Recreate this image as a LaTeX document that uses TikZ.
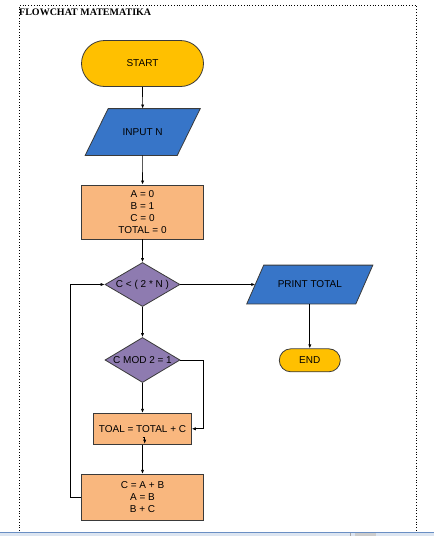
\documentclass[tikz,border=0pt]{standalone}
\usepackage{fontspec}
\setmainfont{Liberation Serif}
\newfontfamily\arialf{Liberation Sans}
\usetikzlibrary{shapes.geometric,shapes.misc,arrows.meta,backgrounds}
\definecolor{termY}{HTML}{FFC000}
\definecolor{ioB}{HTML}{3775C8}
\definecolor{procP}{HTML}{F9B77E}
\definecolor{decV}{HTML}{8E7BB0}
\definecolor{edgeG}{HTML}{3A3A3A}
\definecolor{barB}{HTML}{6A8FC4}
\definecolor{barF}{HTML}{DCE5F1}
\tikzset{
  base/.style={draw=edgeG, line width=0.8pt, inner sep=0pt, text=black,
    font=\arialf\fontsize{10}{12}\selectfont, align=center},
  term/.style={base, rounded rectangle, fill=termY},
  io/.style={base, rectangle, draw=none},
  iofill/.style={draw=edgeG, line width=0.8pt, fill=ioB},
  proc/.style={base, rectangle, fill=procP},
  dec/.style={base, diamond, fill=decV, aspect=1.7},
  conn/.style={draw=black, line width=0.7pt, -{Latex[length=4pt,width=3.2pt]}},
  frame/.style={draw=black, dotted, line width=0.8pt},
}
\begin{document}
\begin{tikzpicture}[x=1pt,y=-1pt]
\useasboundingbox (0,0) rectangle (434,536);
% page frame
\coordinate (ftl) at (19.5,5);
\coordinate (ftr) at (416,5);
\coordinate (fbl) at (19.5,531);
\coordinate (fbr) at (416,531);
\draw[frame] (fbl) -- (ftl) -- (ftr) -- (fbr);
% bottom bar
\fill[barF] (0,532) rectangle (434,536);
\draw[barB, line width=0.8pt] (0,532) -- (434,532);
\fill[gray!40] (355,533) rectangle (376,536);
\draw[gray!70, line width=0.5pt] (350,532.5) -- (350,536);
% title
\node[anchor=base west, inner sep=0pt, font=\bfseries\fontsize{10}{12}\selectfont] (title) at (19,15) {FLOWCHAT MATEMATIKA};
% nodes
\node[term, minimum width=122pt, minimum height=46pt] (start) at (142.5,63.5) {START};
\node[io, minimum width=91.3pt, minimum height=46pt] (input) at (142.7,132) {INPUT N};
\node[proc, minimum width=122pt, minimum height=54pt] (init) at (142.5,212) {A = 0\\B = 1\\C = 0\\TOTAL = 0};
\node[dec, minimum width=75pt, minimum height=44pt] (d1) at (142.5,284.5) {C < ( 2 * N )};
\node[io, minimum width=108.3pt, minimum height=38pt] (print) at (309.8,284.5) {PRINT TOTAL};
\node[term, minimum width=61pt, minimum height=23pt] (end) at (309.8,360.3) {END};
\node[dec, minimum width=75pt, minimum height=45pt] (d2) at (142.5,360) {C MOD 2 = 1};
\node[proc, minimum width=97.7pt, minimum height=31pt] (toal) at (142.5,428.8) {TOAL = TOTAL + C};
\node[proc, minimum width=122pt, minimum height=46pt] (calc) at (142.5,497.3) {C = A + B\\A = B\\B + C};
% parallelogram bodies
\begin{scope}[on background layer]
\draw[iofill] ([xshift=11.5pt]input.north west) -- ([xshift=11.5pt]input.north east)
  -- ([xshift=-11.5pt]input.south east) -- ([xshift=-11.5pt]input.south west) -- cycle;
\draw[iofill] ([xshift=8.5pt]print.north west) -- ([xshift=8.5pt]print.north east)
  -- ([xshift=-8.5pt]print.south east) -- ([xshift=-8.5pt]print.south west) -- cycle;
\end{scope}
% connectors
\draw[conn] (start) -- (input);
\draw[conn] (input) -- (init);
\draw[conn] (init) -- (d1);
\draw[conn] (d1.east) -- (print.west);
\draw[conn] (print.south) -- (end.north);
\draw[conn] (d1.south) -- (d2.north);
\draw[conn] (d2.south) -- (toal.north);
\draw[conn] (d2.east) -- ++(22.7,0) |- (toal.east);
\draw[conn] (toal.south) -- (calc.north);
\draw[conn, line width=0.6pt] ([yshift=7pt]toal.south) -- ++(2.2,0) -- ++(0,6);
\coordinate (lx) at (70.7,497.3);
\draw[conn] (calc.west) -- (lx) |- (d1.west);
\end{tikzpicture}
\end{document}
